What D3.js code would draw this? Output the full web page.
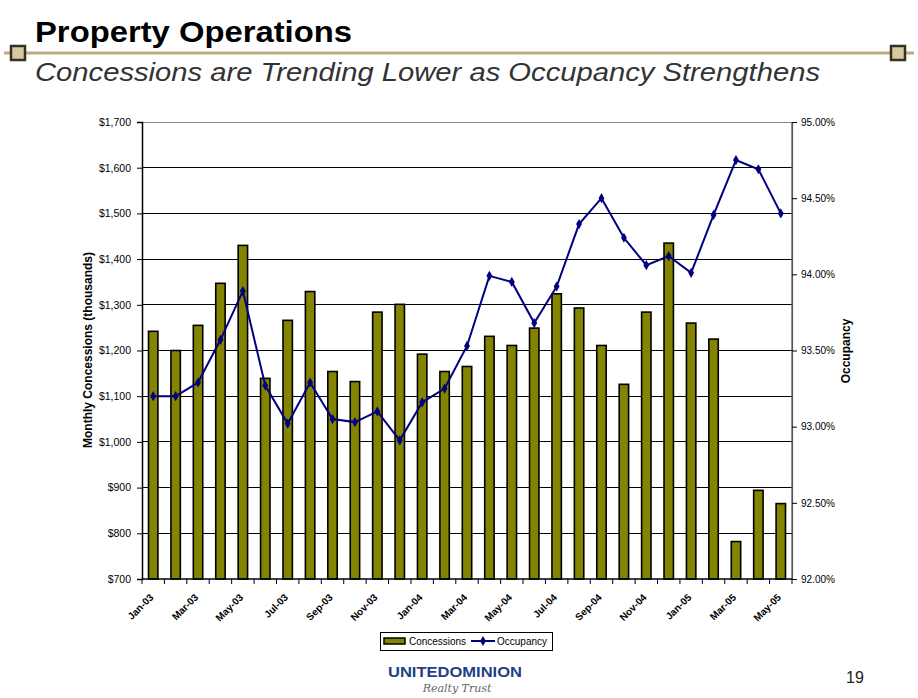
<!DOCTYPE html>
<html><head><meta charset="utf-8">
<script src="https://cdn.jsdelivr.net/npm/d3@7"></script>
<style>
html,body{margin:0;padding:0;background:#fff;}
svg{display:block;font-family:"Liberation Sans",Arial,sans-serif;}
</style></head>
<body>
<svg id="chart" width="918" height="698"></svg>
<script>
const months = ["Jan-03","Feb-03","Mar-03","Apr-03","May-03","Jun-03","Jul-03","Aug-03","Sep-03","Oct-03","Nov-03","Dec-03",
  "Jan-04","Feb-04","Mar-04","Apr-04","May-04","Jun-04","Jul-04","Aug-04","Sep-04","Oct-04","Nov-04","Dec-04",
  "Jan-05","Feb-05","Mar-05","Apr-05","May-05"];
const concessions = [1242,1200,1255,1347,1430,1139,1266,1329,1154,1132,1284,1301,
  1192,1154,1165,1231,1211,1249,1324,1293,1211,1126,1284,1435,
  1260,1225,782,894,865];
const occupancy = [93.20,93.20,93.29,93.57,93.89,93.27,93.02,93.29,93.05,93.03,93.10,92.91,
  93.16,93.25,93.53,93.99,93.95,93.68,93.92,94.33,94.50,94.24,94.06,94.12,
  94.01,94.39,94.75,94.69,94.40];
const leftTicks = [700,800,900,1000,1100,1200,1300,1400,1500,1600,1700];
const rightTicks = [92.0,92.5,93.0,93.5,94.0,94.5,95.0];
const labelMonths = months.filter((d,i)=>i%2===0);

const svg = d3.select("#chart");
const L=142, R=792, T=122, B=579;

// Header
svg.append("text").attr("x",35).attr("y",42).attr("font-size",30).attr("font-weight","bold")
  .attr("fill","#000").attr("textLength",317).attr("lengthAdjust","spacingAndGlyphs").text("Property Operations");
svg.append("line").attr("x1",4).attr("x2",914).attr("y1",53).attr("y2",53).attr("stroke","#bcad80").attr("stroke-width",3);
[[11,46],[891,46]].forEach(([x,y])=>{
  svg.append("rect").attr("x",x).attr("y",y).attr("width",14).attr("height",14)
    .attr("fill","#d8c8a2").attr("stroke","#3a3022").attr("stroke-width",2.5);
});
svg.append("text").attr("x",35).attr("y",81).attr("font-size",26).attr("font-style","italic")
  .attr("fill","#333").attr("textLength",785).attr("lengthAdjust","spacingAndGlyphs")
  .text("Concessions are Trending Lower as Occupancy Strengthens");

// Scales
const x = d3.scaleBand().domain(months).range([L,R]).padding(0);
const y = d3.scaleLinear().domain([700,1700]).range([B,T]);
const y2 = d3.scaleLinear().domain([92,95]).range([B,T]);

// Gridlines
svg.append("g").selectAll("line").data(leftTicks.filter(d=>d>700)).join("line")
  .attr("x1",L).attr("x2",R).attr("y1",d=>y(d)).attr("y2",d=>y(d))
  .attr("stroke",d=>d===1700?"#888":"#000").attr("stroke-width",1).attr("shape-rendering","crispEdges");

// Bars
const bw = x.bandwidth()*0.42;
svg.append("g").selectAll("rect").data(concessions).join("rect")
  .attr("x",(d,i)=>x(months[i])+x.bandwidth()/2-bw/2)
  .attr("y",d=>y(d)).attr("width",bw).attr("height",d=>B-y(d))
  .attr("fill","#848400").attr("stroke","#000").attr("stroke-width",1.6);

// Right border
svg.append("line").attr("x1",R).attr("x2",R).attr("y1",T).attr("y2",B).attr("stroke","#555").attr("stroke-width",1.2);

// Left axis
const gL = svg.append("g").attr("transform",`translate(${L},0)`)
  .call(d3.axisLeft(y).tickValues(leftTicks).tickSize(5).tickPadding(6).tickFormat(d=>"$"+d3.format(",")(d)));
gL.select(".domain").attr("stroke","#000").attr("stroke-width",1.5);
gL.selectAll("text").attr("font-size",10.5).attr("fill","#000").attr("font-family","Liberation Sans, Arial, sans-serif");

// Right axis
const gR = svg.append("g").attr("transform",`translate(${R},0)`)
  .call(d3.axisRight(y2).tickValues(rightTicks).tickSize(5).tickPadding(4).tickFormat(d=>d3.format(".2f")(d)+"%"));
gR.select(".domain").attr("stroke","#555").attr("stroke-width",1.2);
gR.selectAll("text").attr("font-size",10).attr("fill","#000").attr("font-family","Liberation Sans, Arial, sans-serif");

// Bottom axis
const gB = svg.append("g").attr("transform",`translate(0,${B})`);
gB.append("line").attr("x1",L).attr("x2",R).attr("stroke","#000").attr("stroke-width",1.5);
const bounds = months.map(m=>x(m)).concat([R]);
gB.selectAll("line.tk").data(bounds).join("line").attr("class","tk")
  .attr("x1",d=>d).attr("x2",d=>d).attr("y1",0).attr("y2",5).attr("stroke","#000").attr("stroke-width",1);
gB.selectAll("text").data(labelMonths).join("text")
  .attr("transform",d=>`translate(${x(d)+x.bandwidth()/2-4},${14}) rotate(-45)`)
  .attr("text-anchor","end").attr("dy","0.7em").attr("font-size",10).attr("font-weight","bold")
  .attr("fill","#000").text(d=>d);

// Occupancy line
const line = d3.line().x((d,i)=>x(months[i])+x.bandwidth()/2).y(d=>y2(d));
svg.append("path").datum(occupancy).attr("d",line).attr("fill","none").attr("stroke","#000080").attr("stroke-width",2);
const diamond = d3.symbol().type(d3.symbolDiamond).size(30);
svg.append("g").selectAll("path").data(occupancy).join("path")
  .attr("d",diamond).attr("transform",(d,i)=>`translate(${x(months[i])+x.bandwidth()/2},${y2(d)})`)
  .attr("fill","#000080");

// Axis titles
svg.append("text").attr("transform","translate(92,350) rotate(-90)").attr("text-anchor","middle")
  .attr("font-size",12).attr("font-weight","bold").text("Monthly Concessions (thousands)");
svg.append("text").attr("transform","translate(850,351) rotate(-90)").attr("text-anchor","middle")
  .attr("font-size",12).attr("font-weight","bold").text("Occupancy");

// Legend
const lg = svg.append("g");
lg.append("rect").attr("x",380.5).attr("y",632.5).attr("width",172).attr("height",18).attr("fill","#fff").attr("stroke","#000").attr("stroke-width",1);
lg.append("rect").attr("x",384).attr("y",638).attr("width",21).attr("height",6).attr("fill","#848400").attr("stroke","#000").attr("stroke-width",1.5);
lg.append("text").attr("x",409).attr("y",645).attr("font-size",10).attr("textLength",57).attr("lengthAdjust","spacing").text("Concessions");
lg.append("line").attr("x1",471).attr("x2",495).attr("y1",641).attr("y2",641).attr("stroke","#000080").attr("stroke-width",2);
lg.append("path").attr("d",diamond).attr("transform","translate(483,641)").attr("fill","#000080");
lg.append("text").attr("x",497).attr("y",645).attr("font-size",10).attr("textLength",50).attr("lengthAdjust","spacing").text("Occupancy");

// Logo
svg.append("text").attr("x",388).attr("y",677).attr("font-size",14).attr("font-weight","bold")
  .attr("fill","#1f3f86").attr("textLength",134).attr("lengthAdjust","spacingAndGlyphs").text("UNITEDOMINION");
svg.append("text").attr("x",457).attr("y",692).attr("text-anchor","middle").attr("font-size",11).attr("font-style","italic")
  .attr("font-family","DejaVu Serif, serif").attr("fill","#666").text("Realty Trust");

// Page number
svg.append("text").attr("x",855).attr("y",683).attr("text-anchor","middle").attr("font-size",16).attr("fill","#222").text("19");
</script>
</body></html>
